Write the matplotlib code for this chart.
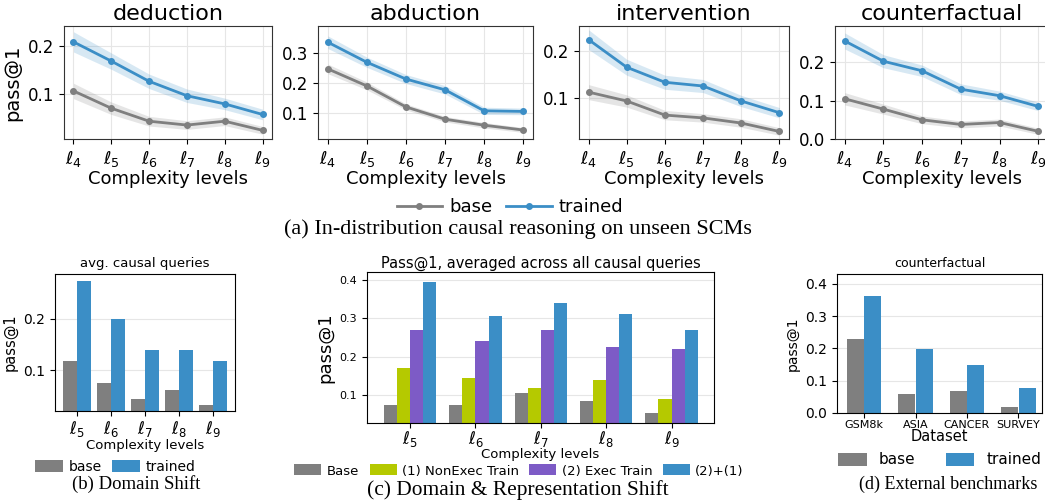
import numpy as np
import matplotlib.pyplot as plt

W, H = 1045, 503

# ---- data ----
levels_top = [r'$\ell_4$', r'$\ell_5$', r'$\ell_6$', r'$\ell_7$', r'$\ell_8$', r'$\ell_9$']
tasks = ['deduction', 'abduction', 'intervention', 'counterfactual']

base_means = {
    'deduction':      [0.106, 0.070, 0.043, 0.035, 0.043, 0.024],
    'abduction':      [0.246, 0.189, 0.119, 0.078, 0.058, 0.042],
    'intervention':   [0.112, 0.093, 0.063, 0.057, 0.046, 0.028],
    'counterfactual': [0.105, 0.078, 0.050, 0.038, 0.043, 0.020],
}
trained_means = {
    'deduction':      [0.208, 0.168, 0.126, 0.096, 0.079, 0.057],
    'abduction':      [0.335, 0.268, 0.212, 0.176, 0.106, 0.104],
    'intervention':   [0.224, 0.165, 0.133, 0.125, 0.093, 0.068],
    'counterfactual': [0.256, 0.203, 0.178, 0.130, 0.113, 0.085],
}
base_err = [0.016, 0.013, 0.010, 0.009, 0.009, 0.008]
trained_err = [0.021, 0.017, 0.015, 0.014, 0.012, 0.011]

levels_b = [r'$\ell_5$', r'$\ell_6$', r'$\ell_7$', r'$\ell_8$', r'$\ell_9$']
domain_base = [0.118, 0.074, 0.044, 0.062, 0.032]
domain_trained = [0.274, 0.200, 0.140, 0.140, 0.118]

repr_names = ['Base', '(1) NonExec Train', '(2) Exec Train', '(2)+(1)']
repr_vals = [
    [0.075, 0.075, 0.106, 0.085, 0.054],
    [0.171, 0.145, 0.119, 0.140, 0.090],
    [0.269, 0.241, 0.269, 0.225, 0.220],
    [0.394, 0.306, 0.340, 0.311, 0.269],
]

datasets = ['GSM8k', 'ASIA', 'CANCER', 'SURVEY']
ext_base = [0.230, 0.058, 0.068, 0.019]
ext_trained = [0.363, 0.199, 0.148, 0.078]

GRAY = '#7f7f7f'
BLUE = '#3b8ec6'
YELLOW = '#b5c900'
PURPLE = '#7d5bc6'

fig = plt.figure(figsize=(W / 100, H / 100), dpi=100)


def px_axes(l, t, r, b):
    return fig.add_axes([l / W, 1 - b / H, (r - l) / W, (b - t) / H])


def style(ax, spine='#333333'):
    ax.grid(True, color='#e6e6e6', linewidth=0.8)
    ax.set_axisbelow(True)
    for s in ax.spines.values():
        s.set_color(spine)


# ---- (a) top row ----
top_rects = [(64, 26, 272, 139), (318, 26, 533, 139),
             (579, 26, 789, 139), (835, 26, 1048, 139)]
ylims = [(0.006, 0.241), (0.012, 0.389), (0.012, 0.253), (0.0, 0.295)]
yticks = [[0.1, 0.2], [0.1, 0.2, 0.3], [0.1, 0.2], [0.0, 0.1, 0.2]]
x = np.arange(len(levels_top))
for task, rect, yl, yt in zip(tasks, top_rects, ylims, yticks):
    ax = px_axes(*rect)
    style(ax)
    b = np.array(base_means[task])
    t = np.array(trained_means[task])
    ax.fill_between(x, b - base_err, b + base_err, color=GRAY, alpha=0.2, lw=0)
    ax.fill_between(x, t - trained_err, t + trained_err, color=BLUE, alpha=0.2, lw=0)
    ax.plot(x, b, '-o', color=GRAY, lw=2, ms=4, label='base')
    ax.plot(x, t, '-o', color=BLUE, lw=2, ms=4, label='trained')
    ax.set_xlim(-0.25, 5.25)
    ax.set_ylim(*yl)
    ax.set_yticks(yt)
    ax.set_yticklabels([f'{v:.1f}' for v in yt], fontsize=12)
    ax.set_xticks(x)
    ax.set_xticklabels(levels_top, fontsize=13)
    ax.set_title(task, fontsize=16, pad=4)
    ax.set_xlabel('Complexity levels', fontsize=13, labelpad=1)
    if task == 'deduction':
        ax.set_ylabel('pass@1', fontsize=14)
        handles, labels = ax.get_legend_handles_labels()

fig.legend(handles, labels, loc='center', bbox_to_anchor=(510 / W, 1 - 207 / H),
           ncol=2, frameon=False, fontsize=13, handlelength=2.5, columnspacing=0.8,
           handletextpad=0.4)
fig.text(518 / W, 1 - 229 / H, '(a) In-distribution causal reasoning on unseen SCMs',
         ha='center', va='center', family='Liberation Serif', fontsize=16)

# ---- (b) domain shift ----
ax = px_axes(55, 274, 235, 411)
style(ax, 'black')
xb = np.arange(len(levels_b))
ax.bar(xb - 0.2, domain_base, 0.4, color=GRAY, label='base')
ax.bar(xb + 0.2, domain_trained, 0.4, color=BLUE, label='trained')
ax.set_xlim(-0.65, 4.65)
ax.set_ylim(0.02, 0.288)
ax.set_yticks([0.1, 0.2])
ax.tick_params(axis='y', labelsize=10)
ax.set_xticks(xb)
ax.set_xticklabels(levels_b, fontsize=12)
ax.tick_params(axis='x', pad=2)
ax.set_title('avg. causal queries', fontsize=9.5, pad=5)
ax.set_xlabel('Complexity levels', fontsize=9.5, labelpad=0)
ax.set_ylabel('pass@1', fontsize=10.5)
ax.grid(axis='x', visible=False)
ax.legend(loc='center', bbox_to_anchor=(115 / W, 1 - 467 / H), bbox_transform=fig.transFigure,
          ncol=2, frameon=False, fontsize=10, handlelength=2.0, handleheight=0.9,
          columnspacing=0.75, handletextpad=0.4)
fig.text(136 / W, 1 - 484 / H, '(b) Domain Shift', ha='center', va='center',
         family='Liberation Serif', fontsize=13.5)

# ---- (c) domain & representation shift ----
ax = px_axes(367, 272, 714, 423)
style(ax, 'black')
colors = [GRAY, YELLOW, PURPLE, BLUE]
for i, (name, vals, c) in enumerate(zip(repr_names, repr_vals, colors)):
    ax.bar(xb + (i - 1.5) * 0.2, vals, 0.2, color=c, label=name)
ax.set_xlim(-0.66, 4.65)
ax.set_ylim(0.027, 0.421)
ax.set_yticks([0.1, 0.2, 0.3, 0.4])
ax.tick_params(axis='y', labelsize=8)
ax.set_xticks(xb)
ax.set_xticklabels(levels_b, fontsize=12)
ax.tick_params(axis='x', pad=1)
ax.grid(axis='x', visible=False)
ax.set_title('Pass@1, averaged across all causal queries', fontsize=10.5, pad=3)
ax.set_xlabel('Complexity levels', fontsize=9.5, labelpad=-1)
ax.set_ylabel('pass@1', fontsize=13)
ax.legend(loc='center', bbox_to_anchor=(519 / W, 1 - 471 / H), bbox_transform=fig.transFigure,
          ncol=4, frameon=False, fontsize=9.5, handlelength=2.05, handleheight=0.9,
          columnspacing=0.8, handletextpad=0.4)
fig.text(518 / W, 1 - 490 / H, '(c) Domain & Representation Shift', ha='center', va='center',
         family='Liberation Serif', fontsize=15.4)

# ---- (d) external benchmarks ----
ax = px_axes(837, 274, 1042, 413)
style(ax, 'black')
xd = np.arange(len(datasets))
ax.bar(xd - 0.17, ext_base, 0.33, color=GRAY, label='base')
ax.bar(xd + 0.17, ext_trained, 0.33, color=BLUE, label='trained')
ax.set_xlim(-0.53, 3.46)
ax.set_ylim(0, 0.43)
ax.set_yticks([0.0, 0.1, 0.2, 0.3, 0.4])
ax.tick_params(axis='y', labelsize=10)
ax.set_xticks(xd)
ax.set_xticklabels(datasets, fontsize=8)
ax.tick_params(axis='x', pad=1.5)
ax.grid(axis='x', visible=False)
ax.set_title('counterfactual', fontsize=9, pad=5)
ax.set_xlabel('Dataset', fontsize=10.5, labelpad=-1)
ax.set_ylabel('pass@1', fontsize=10)
ax.legend(loc='center', bbox_to_anchor=(940 / W, 1 - 460 / H), bbox_transform=fig.transFigure,
          ncol=2, frameon=False, fontsize=11, handlelength=1.85, handleheight=0.9,
          columnspacing=2.0, handletextpad=0.8)
fig.text(948 / W, 1 - 484 / H, '(d) External benchmarks', ha='center', va='center',
         family='Liberation Serif', fontsize=13)

fig.savefig('out.png', dpi=100)
